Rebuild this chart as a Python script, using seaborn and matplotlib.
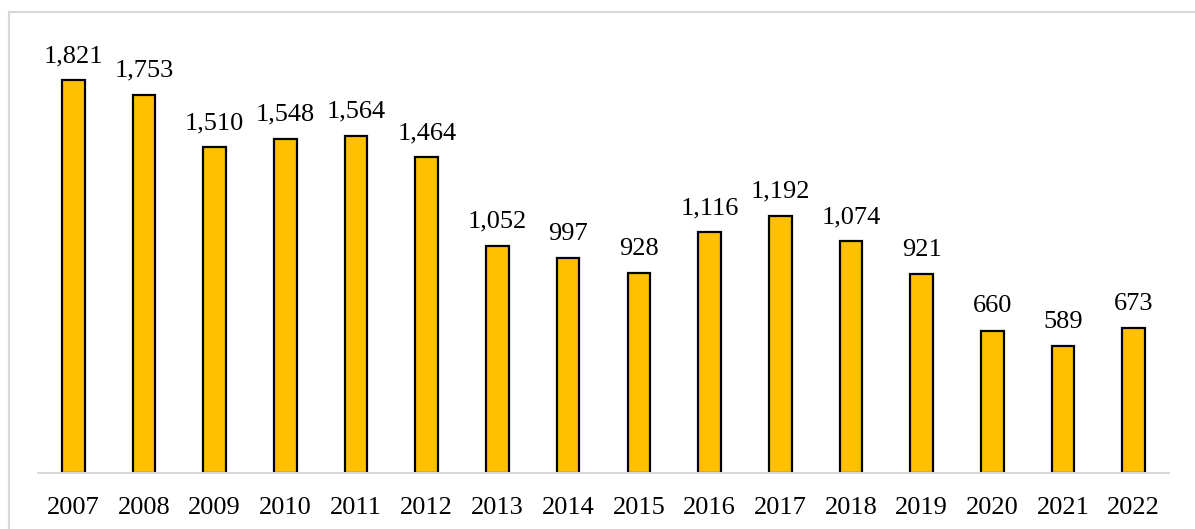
import matplotlib
matplotlib.use("Agg")
import matplotlib.pyplot as plt
import seaborn as sns
import pandas as pd
from matplotlib.lines import Line2D

years = ["2007", "2008", "2009", "2010", "2011", "2012", "2013", "2014",
         "2015", "2016", "2017", "2018", "2019", "2020", "2021", "2022"]
counts = [1821, 1753, 1510, 1548, 1564, 1464, 1052, 997,
          928, 1116, 1192, 1074, 921, 660, 589, 673]

df = pd.DataFrame({"year": years, "count": counts})

sns.set_theme(style="white")
plt.rcParams["font.family"] = ["Liberation Serif", "DejaVu Serif"]

W, H = 1195, 529
fig = plt.figure(figsize=(W / 100, H / 100), dpi=100)
ax = fig.add_axes([38 / W, (H - 473) / H, (1169 - 38) / W, (473 - 20) / H])

sns.barplot(data=df, x="year", y="count", ax=ax, color="#FFC000",
            saturation=1, width=0.32, edgecolor="black", linewidth=1.6)

ax.set_xlim(-0.5, len(years) - 0.5)
ax.set_ylim(0, 2100)
ax.set_xlabel("")
ax.set_ylabel("")
ax.set_yticks([])
for side in ["top", "right", "left"]:
    ax.spines[side].set_visible(False)
ax.spines["bottom"].set_color("#d9d9d9")
ax.spines["bottom"].set_linewidth(1.5)
ax.tick_params(axis="x", length=0, pad=17, labelsize=19, colors="black")

for container in ax.containers:
    ax.bar_label(container, labels=[f"{v:,}" for v in counts],
                 padding=9.5, fontsize=19, color="black")

# light frame around the chart area
fig.add_artist(Line2D([9 / W, 9 / W], [0, (H - 12) / H], color="#d9d9d9",
                      linewidth=1.6, transform=fig.transFigure))
fig.add_artist(Line2D([9 / W, 1], [(H - 12) / H, (H - 12) / H], color="#d9d9d9",
                      linewidth=1.6, transform=fig.transFigure))

fig.savefig("out.png", dpi=100)
